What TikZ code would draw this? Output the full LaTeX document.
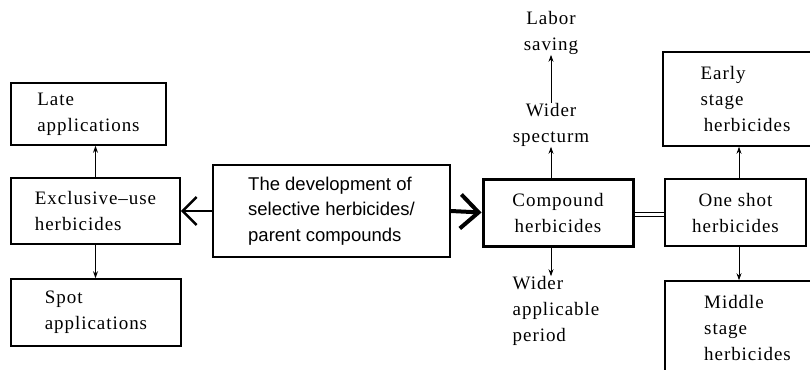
\documentclass[tikz,border=0pt]{standalone}
\usepackage{fontspec}
\setmainfont{Liberation Serif}[LetterSpace=5]
\newfontfamily\sansf{Liberation Sans}
\usetikzlibrary{arrows.meta}
\begin{document}
\begin{tikzpicture}[x=1pt,y=-1pt,
  box/.style={draw, line width=1.6pt, align=left, inner sep=0pt, font=\fontsize{19}{26}\selectfont},
  lbl/.style={inner sep=0pt, font=\fontsize{19}{26}\selectfont},
  sm/.style={-{Stealth[length=7pt,width=5pt]}, line width=0.8pt},
  big/.style={-{Straight Barb[length=14pt,width=28pt]}},
  bigr/.style={-{Straight Barb[length=18pt,width=34pt]}},
]
\useasboundingbox (0,0) rectangle (810,369);
\clip (0,0) rectangle (810,369);
\node[box, minimum width=155pt, minimum height=62pt] (late) at (88.5,114) {Late\\applications};
\node[box, minimum width=169pt, minimum height=66pt] (excl) at (95.5,211) {Exclusive--use\\herbicides};
\node[box, minimum width=170pt, minimum height=67pt] (spot) at (96,312.5) {Spot\\applications};
\node[box, minimum width=237pt, minimum height=92pt, font=\sansf\fontsize{18.5}{25.5}\selectfont] (dev) at (331.5,211) {The development of\\selective herbicides/\\parent compounds};
\node[box, line width=3pt, align=center, minimum width=150pt, minimum height=67pt] (comp) at (558,212.5) {Compound\\herbicides};
\node[box, line width=2.5pt, align=center, minimum width=141pt, minimum height=67pt] (one) at (735.5,212.5) {One shot\\herbicides};
\node[box, minimum width=165pt, minimum height=94pt] (early) at (745.5,99) {Early\\stage\\\,herbicides};
\node[box, minimum width=165pt, minimum height=94pt] (mid) at (747.5,328) {Middle\\stage\\herbicides};
\node[lbl, align=center] (labor) at (551,33) {Labor\\saving};
\node[lbl, align=center] (wspec) at (551,125) {Wider\\specturm};
\node[lbl, align=left] (wapp) at (556,311) {Wider\\applicable\\period};
\draw[sm] (excl.north) -- (excl.north |- late.south);
\draw[sm] (excl.south) -- (excl.south |- spot.north);
\draw[sm] (comp.north -| wspec) -- (wspec.south);
\draw[sm] (wspec.north) -- (labor.south);
\draw[sm] (comp.south -| wspec) -- (wspec |- wapp.north);
\draw[sm] ([xshift=3.5pt]one.north) -- ([xshift=3.5pt]one.north |- early.south);
\draw[sm] ([xshift=3.5pt]one.south) -- ([xshift=3.5pt]one.south |- mid.north);
\draw[big, line width=2.5pt] (dev.west) -- (excl.east);
\draw[bigr, line width=4pt] (dev.east) -- (comp.west);
\draw[double, double distance=3pt, line width=1pt] ([yshift=-2pt]comp.east) -- ([yshift=-2pt]one.west);
\end{tikzpicture}
\end{document}
